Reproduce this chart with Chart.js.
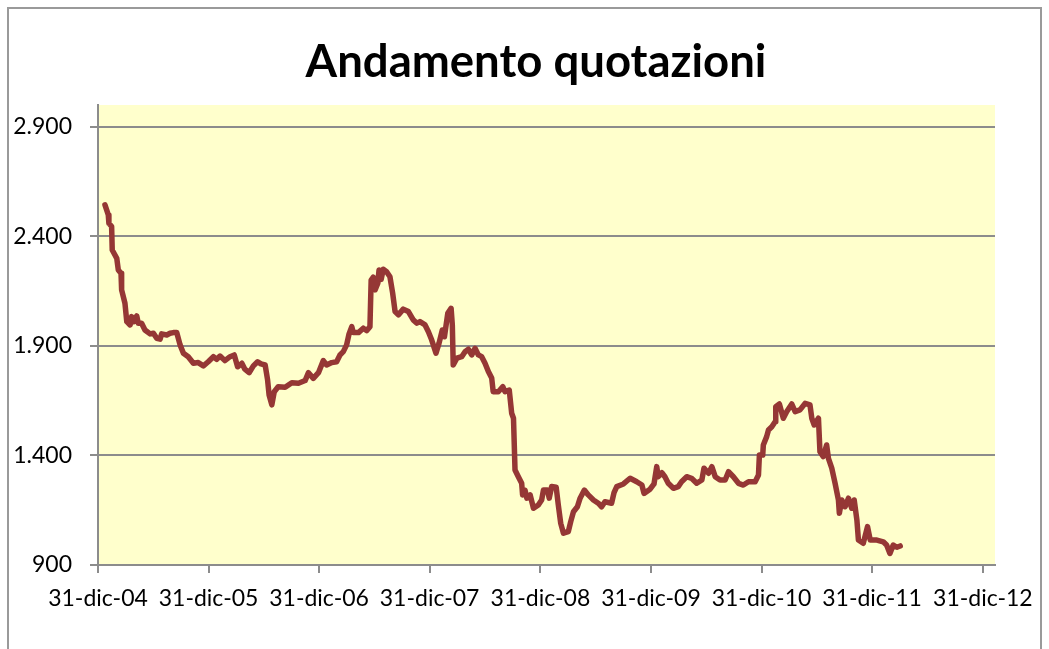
<!DOCTYPE html>
<html><head><meta charset="utf-8">
<script src="https://cdn.jsdelivr.net/npm/chart.js@4.4.1/dist/chart.umd.min.js"></script>
<style>
html,body{margin:0;padding:0;background:#fff;}
#wrap{position:relative;width:1049px;height:649px;overflow:hidden;}
#frame{position:absolute;left:7px;top:7px;width:1035px;height:700px;border:2px solid #9a9a9a;box-sizing:border-box;}
canvas{position:absolute;left:0;top:0;}
</style></head>
<body><div id="wrap"><div id="frame"></div><canvas id="c" width="1049" height="649"></canvas></div>
<script>
const chartTitle = 'Andamento quotazioni';
// days after 31-dic-2004
const dayOffsets = [23,34,36,45,47,56,62,67,76,78,89,95,106,111,120,128,133,144,155,172,183,194,205,210,227,238,249,260,271,282,298,315,331,348,364,381,392,403,419,436,450,461,475,485,499,513,527,538,552,560,565,574,582,595,618,640,662,684,695,711,728,744,755,772,788,799,810,821,829,838,843,860,876,887,898,902,909,915,924,928,935,942,953,964,973,981,992,1008,1025,1041,1053,1063,1080,1091,1102,1116,1126,1137,1144,1155,1166,1170,1173,1185,1201,1212,1223,1234,1245,1256,1267,1278,1289,1300,1305,1322,1337,1344,1358,1366,1372,1377,1388,1399,1402,1410,1416,1427,1438,1454,1465,1471,1484,1490,1498,1513,1520,1528,1537,1553,1561,1570,1583,1592,1606,1619,1636,1652,1663,1674,1696,1704,1713,1735,1757,1779,1796,1803,1823,1836,1845,1850,1862,1872,1883,1900,1916,1927,1944,1960,1977,1994,2001,2016,2027,2038,2054,2071,2082,2098,2115,2131,2148,2170,2181,2184,2195,2197,2208,2214,2225,2236,2238,2250,2263,2274,2291,2302,2318,2335,2351,2357,2365,2379,2384,2395,2406,2412,2423,2434,2445,2448,2456,2467,2478,2489,2497,2506,2511,2527,2541,2550,2572,2593,2604,2615,2626,2638,2649];
const prices = [2544,2498,2460,2445,2338,2315,2300,2247,2232,2156,2095,2011,1996,2034,2011,2037,2004,2004,1973,1955,1958,1935,1931,1955,1950,1958,1961,1961,1905,1867,1851,1821,1824,1809,1828,1851,1839,1854,1833,1851,1859,1805,1821,1794,1778,1809,1828,1818,1813,1745,1676,1631,1691,1714,1711,1732,1730,1742,1778,1752,1778,1833,1813,1824,1828,1859,1874,1905,1955,1988,1961,1961,1981,1970,1988,2201,2214,2156,2186,2247,2204,2250,2239,2216,2141,2057,2042,2068,2057,2019,2004,2011,1996,1965,1927,1867,1912,1973,1942,2049,2072,1996,1813,1844,1851,1874,1885,1859,1889,1859,1851,1821,1783,1754,1691,1691,1714,1691,1699,1593,1570,1334,1303,1273,1220,1242,1205,1220,1159,1174,1197,1242,1242,1205,1258,1255,1174,1090,1045,1052,1098,1143,1166,1205,1242,1220,1197,1182,1166,1189,1182,1230,1258,1270,1296,1280,1265,1227,1246,1270,1349,1303,1321,1303,1273,1250,1258,1280,1303,1296,1273,1288,1342,1319,1349,1303,1288,1288,1326,1303,1273,1265,1280,1280,1311,1402,1402,1448,1486,1516,1531,1554,1623,1635,1570,1600,1635,1600,1608,1638,1631,1570,1539,1570,1417,1395,1448,1387,1342,1273,1197,1136,1197,1166,1205,1159,1197,1105,1014,999,1075,1014,1014,1006,991,953,991,981,987];
const xTickDays = [0,365,730,1095,1461,1826,2191,2556,2922];
const xTickLabels = ['31-dic-04','31-dic-05','31-dic-06','31-dic-07','31-dic-08','31-dic-09','31-dic-10','31-dic-11','31-dic-12'];
const yTickValues = [900,1400,1900,2400,2900];
const yTickLabels = ['900','1.400','1.900','2.400','2.900'];
const xMaxDay = 2962;
const yMin = 900, yMax = 3000;

const plotBg = {
  id: 'plotBg',
  beforeDraw(chart) {
    const a = chart.chartArea, ctx = chart.ctx;
    ctx.save();
    ctx.fillStyle = '#FFFFCC';
    ctx.fillRect(a.left, a.top, a.right - a.left, a.bottom - a.top);
    ctx.restore();
  }
};
// centre the title like the spreadsheet does (between x=77 and the plot's right edge)
const titleSpan = {
  id: 'titleSpan',
  afterLayout(chart) {
    const t = chart.titleBlock;
    if (t) { t.left = 77; t.right = chart.chartArea.right; t.width = t.right - t.left; }
  }
};

const gridColor = '#8c8c8c';
new Chart(document.getElementById('c'), {
  type: 'line',
  data: {
    datasets: [{
      data: dayOffsets.map((d, i) => ({x: d, y: prices[i]})),
      borderColor: '#953735',
      borderWidth: 5.5,
      pointRadius: 0,
      tension: 0,
      borderJoinStyle: 'round',
      borderCapStyle: 'round',
      fill: false
    }]
  },
  options: {
    responsive: false,
    animation: false,
    layout: { autoPadding: false, padding: { left: 8, right: 54, top: 0, bottom: 0 } },
    plugins: {
      legend: { display: false },
      tooltip: { enabled: false },
      title: {
        display: true,
        text: chartTitle,
        color: '#000',
        font: { family: 'Lato', weight: 'bold', size: 45.5, lineHeight: 1.2 },
        padding: { top: 35, bottom: 15.4 }
      }
    },
    scales: {
      x: {
        type: 'linear',
        min: 0,
        max: xMaxDay,
        afterFit(s) { s.height = 84; },
        afterBuildTicks(s) { s.ticks = xTickDays.map(v => ({ value: v })); },
        ticks: {
          autoSkip: false, maxRotation: 0, minRotation: 0,
          color: '#000', padding: 12,
          font: { family: 'Lato', size: 23 },
          callback: (v, i) => xTickLabels[i]
        },
        grid: { drawOnChartArea: false, drawTicks: true, tickLength: 8, color: gridColor, lineWidth: 2 },
        border: { display: true, color: gridColor, width: 2 }
      },
      y: {
        min: yMin,
        max: yMax,
        afterFit(s) { s.width = 90; },
        afterBuildTicks(s) { s.ticks = yTickValues.map(v => ({ value: v })); },
        ticks: {
          color: '#000', padding: 18,
          font: { family: 'Lato', size: 23 },
          callback: (v, i) => yTickLabels[i]
        },
        grid: { color: gridColor, lineWidth: 2, tickLength: 8 },
        border: { display: true, color: gridColor, width: 2 }
      }
    }
  },
  plugins: [plotBg, titleSpan]
});
</script>
</body></html>
